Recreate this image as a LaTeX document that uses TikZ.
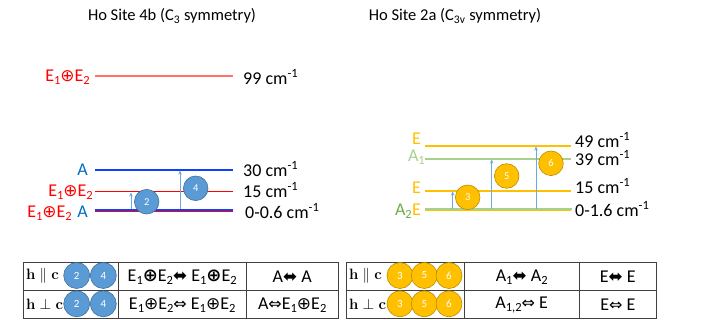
\RequirePackage{fix-cm}
\documentclass[tikz,border=0pt]{standalone}
\usepackage[no-math]{fontspec}
\setmainfont{Carlito}
\newfontfamily\djv{DejaVu Sans}
\usetikzlibrary{arrows.meta}
\definecolor{cred}{HTML}{FF0000}
\definecolor{lred}{HTML}{FF7560}
\definecolor{cblueT}{HTML}{0070C0}
\definecolor{lblue}{HTML}{1040FF}
\definecolor{arrowblue}{HTML}{6FA8DC}
\definecolor{cfillb}{HTML}{5B9BD5}
\definecolor{cdrawb}{HTML}{41719C}
\definecolor{cgold}{HTML}{FFC000}
\definecolor{cgolddark}{HTML}{BC8C00}
\definecolor{lgreen}{HTML}{A9D18E}
\definecolor{dgreen}{HTML}{70AD47}
\definecolor{tabline}{HTML}{404040}
\newcommand{\cplus}{{\djv\fontsize{17}{18}\selectfont ⊕}}
\newcommand{\bcplus}{{\djv\bfseries\fontsize{18}{18}\selectfont ⊕}}
\newcommand{\sbs}[1]{\raisebox{-0.4ex}{\fontsize{12.5}{12}\selectfont #1}}
\newcommand{\Eoplus}{E\sbs{1}\cplus E\sbs{2}}
\newcommand{\bEoplus}{E\sbs{1}\bcplus E\sbs{2}}
\newcommand{\barr}{{\djv\fontsize{17}{18}\selectfont ⬌}}
\newcommand{\harr}{{\djv\fontsize{16}{18}\selectfont ⇔}}
\begin{document}
\begin{tikzpicture}[x=1pt,y=-1pt,
  lab/.style={inner sep=0pt, font=\fontsize{18}{20}\selectfont},
  ttl/.style={inner sep=0pt, font=\fontsize{16.5}{20}\selectfont},
  lvl/.style={line width=1.1pt},
  trans/.style={draw=arrowblue, line width=1pt, -{Stealth[length=4pt,width=3.5pt]}},
  bcirc/.style={circle, fill=cfillb, draw=cdrawb, line width=0.6pt, minimum size=24.6pt, inner sep=0pt, text=white, font=\fontsize{10.5}{12}\selectfont},
  ycirc/.style={circle, fill=cgold, draw=cgolddark, line width=0.6pt, minimum size=24.6pt, inner sep=0pt, text=white, font=\fontsize{10.5}{12}\selectfont},
  tcirc/.style={circle, minimum size=26pt, inner sep=0pt, line width=0.6pt, text=white, font=\fontsize{11}{12}\selectfont},
  tab/.style={draw=tabline, line width=0.8pt},
  cell/.style={inner sep=0pt, font=\fontsize{18}{20}\selectfont},
  hc/.style={inner sep=0pt, anchor=west, font=\fontsize{15}{17}\selectfont}
]
\useasboundingbox (0,0) rectangle (705,320);

% titles
\node[ttl] (t1) at (172,16) {Ho Site 4b (C\textsubscript{3} symmetry)};
\node[ttl] (t2) at (455,16) {Ho Site 2a (C\textsubscript{3v} symmetry)};

% ---------- left diagram ----------
\coordinate (L99a) at (95,75.7);  \coordinate (L99b) at (233,75.7);
\coordinate (L30a) at (95,170);   \coordinate (L30b) at (233,170);
\coordinate (L15a) at (95,191.7); \coordinate (L15b) at (233,191.7);
\coordinate (L0a) at (95,210);    \coordinate (L0b) at (233,210);
\coordinate (L0ra) at (95,211.8); \coordinate (L0rb) at (233,211.8);
\draw[line width=1.8pt, draw=lred] (L99a) -- (L99b);
\draw[lvl, draw=lblue] (L30a) -- (L30b);
\draw[lvl, draw=cred] (L15a) -- (L15b);
\draw[lvl, draw=cred] (L0ra) -- (L0rb);
\draw[line width=2pt, draw=lblue] (L0a) -- (L0b);

\node[lab, anchor=east, text=cred] (l99) at (90,77) {\Eoplus};
\node[lab, anchor=east, text=cblueT] (l30) at (88,170) {A};
\node[lab, anchor=east, text=cred] (l15) at (93,192) {\Eoplus};
\node[lab, anchor=east, text=cblueT] (l0A) at (88,212) {A};
\node[lab, anchor=east, text=cred] (l0E) at (72,213) {\Eoplus};

\node[lab, anchor=west] (r99) at (243,77) {99 cm\textsuperscript{-1}};
\node[lab, anchor=west] (r30) at (243,169) {30 cm\textsuperscript{-1}};
\node[lab, anchor=west] (r15) at (243,190) {15 cm\textsuperscript{-1}};
\node[lab, anchor=west] (r0) at (245,211) {0-0.6 cm\textsuperscript{-1}};

\coordinate (A2s) at (131,209); \coordinate (A2e) at (131,192.5);
\coordinate (A4s) at (180,209); \coordinate (A4e) at (180,170.5);
\draw[trans] (A2s) -- (A2e);
\draw[trans] (A4s) -- (A4e);
\node[bcirc] (c2) at (146.7,201.7) {2};
\node[bcirc] (c4) at (195.7,188.3) {4};

% ---------- right diagram ----------
\coordinate (R49a) at (425,146);   \coordinate (R49b) at (570.7,146);
\coordinate (R39a) at (425,159);   \coordinate (R39b) at (570.7,159);
\coordinate (R15a) at (425,191);   \coordinate (R15b) at (570.7,191);
\coordinate (R0ga) at (425,209);   \coordinate (R0gb) at (572,209);
\coordinate (R0ya) at (425,210.8); \coordinate (R0yb) at (570.7,210.8);
\draw[lvl, draw=cgold] (R49a) -- (R49b);
\draw[lvl, draw=lgreen] (R39a) -- (R39b);
\draw[lvl, draw=cgold] (R15a) -- (R15b);
\draw[lvl, draw=lgreen] (R0ga) -- (R0gb);
\draw[lvl, draw=cgold] (R0ya) -- (R0yb);

\node[lab, anchor=east, text=cgold] (rl49) at (421,139) {E};
\node[lab, anchor=east, text=lgreen] (rl39) at (425,157) {A\sbs{1}};
\node[lab, anchor=east, text=cgold] (rl15) at (421,188) {E};
\node[lab, anchor=east, text=cgold] (rl0E) at (421,210) {E};
\node[lab, anchor=east, text=dgreen] (rl0A) at (412,211) {A\sbs{2}};

\node[lab, anchor=west] (rr49) at (575,140) {49 cm\textsuperscript{-1}};
\node[lab, anchor=west] (rr39) at (575,158) {39 cm\textsuperscript{-1}};
\node[lab, anchor=west] (rr15) at (575,186) {15 cm\textsuperscript{-1}};
\node[lab, anchor=west] (rr0) at (575,209) {0-1.6 cm\textsuperscript{-1}};

\coordinate (B3s) at (452.7,209); \coordinate (B3e) at (452.7,191.5);
\coordinate (B5s) at (491.7,209); \coordinate (B5e) at (491.7,159.5);
\coordinate (B6s) at (536,209);   \coordinate (B6e) at (536,146.5);
\draw[trans] (B3s) -- (B3e);
\draw[trans] (B5s) -- (B5e);
\draw[trans] (B6s) -- (B6e);
\node[ycirc] (c3) at (467.7,197.3) {3};
\node[ycirc] (c5) at (506.7,176) {5};
\node[ycirc] (c6) at (551,163.3) {6};

% ---------- left table ----------
\coordinate (T1a) at (23.3,262.3); \coordinate (T1b) at (338.3,318.3);
\draw[tab] (T1a) rectangle (T1b);
\coordinate (T1m1) at (23.3,290.7); \coordinate (T1m2) at (338.3,290.7);
\draw[tab] (T1m1) -- (T1m2);
\coordinate (T1c1a) at (118.3,262.3); \coordinate (T1c1b) at (118.3,318.3);
\coordinate (T1c2a) at (246,262.3); \coordinate (T1c2b) at (246,318.3);
\draw[tab] (T1c1a) -- (T1c1b);
\draw[tab] (T1c2a) -- (T1c2b);

\node[hc] (h1) at (26,276) {$\mathbf{h}\parallel\mathbf{c}$};
\node[hc] (h2) at (26,304) {$\mathbf{h}\perp\mathbf{c}$};
\node[tcirc, fill=cfillb, draw=cdrawb] (tb2a) at (76.7,275.5) {2};
\node[tcirc, fill=cfillb, draw=cdrawb] (tb4a) at (103.3,275.5) {4};
\node[tcirc, fill=cfillb, draw=cdrawb] (tb2b) at (76.7,303.8) {2};
\node[tcirc, fill=cfillb, draw=cdrawb] (tb4b) at (103.3,303.8) {4};

\node[cell] (x11) at (182.2,277) {\bEoplus\barr\ \bEoplus};
\node[cell] (x12) at (292.2,277) {A\barr\ A};
\node[cell] (x21) at (182.2,305) {\Eoplus\harr\ \Eoplus};
\node[cell] (x22) at (292.2,305) {A\harr\Eoplus};

% ---------- right table ----------
\coordinate (T2a) at (346,262.3); \coordinate (T2b) at (656.7,318.3);
\draw[tab] (T2a) rectangle (T2b);
\coordinate (T2m1) at (346,290.7); \coordinate (T2m2) at (656.7,290.7);
\draw[tab] (T2m1) -- (T2m2);
\coordinate (T2c1a) at (464.3,262.3); \coordinate (T2c1b) at (464.3,318.3);
\coordinate (T2c2a) at (579,262.3); \coordinate (T2c2b) at (579,318.3);
\draw[tab] (T2c1a) -- (T2c1b);
\draw[tab] (T2c2a) -- (T2c2b);

\node[hc] (h3) at (349,276) {$\mathbf{h}\parallel\mathbf{c}$};
\node[hc] (h4) at (349,304) {$\mathbf{h}\perp\mathbf{c}$};
\node[tcirc, fill=cgold, draw=cgolddark] (ty3a) at (400,275.5) {3};
\node[tcirc, fill=cgold, draw=cgolddark] (ty5a) at (424.3,275.5) {5};
\node[tcirc, fill=cgold, draw=cgolddark] (ty6a) at (449,275.5) {6};
\node[tcirc, fill=cgold, draw=cgolddark] (ty3b) at (400,303.8) {3};
\node[tcirc, fill=cgold, draw=cgolddark] (ty5b) at (424.3,303.8) {5};
\node[tcirc, fill=cgold, draw=cgolddark] (ty6b) at (449,303.8) {6};

\node[cell] (y11) at (521.7,277) {A\sbs{1}\barr\ A\sbs{2}};
\node[cell] (y12) at (617.8,277) {E\barr\ E};
\node[cell] (y21) at (521.7,305) {A\sbs{1,2}\harr\ E};
\node[cell] (y22) at (617.8,305) {E\harr\ E};
\end{tikzpicture}
\end{document}
